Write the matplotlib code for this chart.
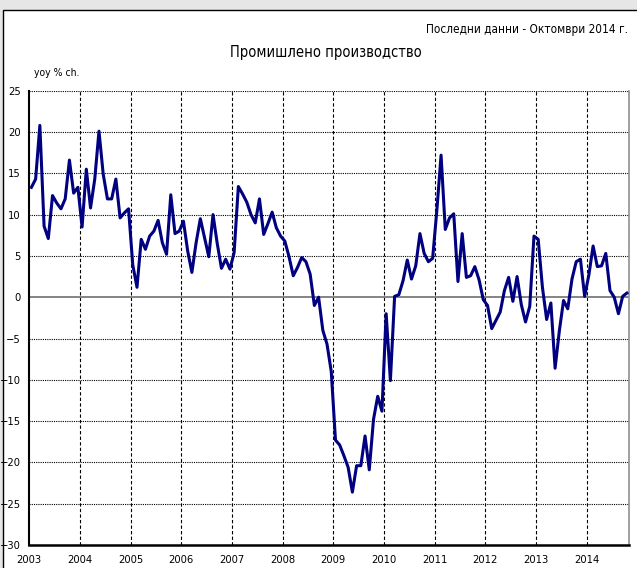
import matplotlib
matplotlib.use("Agg")
import matplotlib.pyplot as plt
from matplotlib.patches import Rectangle
import numpy as np

# monthly yoy % change, Jan 2003 - Oct 2014
y2003 = [13.3, 14.3, 20.8, 8.6, 7.1, 12.3, 11.4, 10.7, 11.9, 16.6, 12.6, 13.3]
y2004 = [8.5, 15.5, 10.8, 14.3, 20.1, 14.9, 11.9, 11.9, 14.3, 9.6, 10.2, 10.7]
y2005 = [3.9, 1.2, 7.0, 5.8, 7.4, 8.0, 9.3, 6.6, 5.2, 12.4, 7.7, 8.0]
y2006 = [9.2, 5.6, 3.0, 6.6, 9.5, 7.2, 4.9, 10.0, 6.5, 3.5, 4.6, 3.4]
y2007 = [5.4, 13.4, 12.5, 11.5, 10.0, 9.0, 11.9, 7.6, 8.9, 10.3, 8.4, 7.4]
y2008 = [6.8, 4.9, 2.6, 3.6, 4.8, 4.3, 2.8, -1.0, 0.0, -4.0, -5.7, -9.0]
y2009 = [-17.3, -17.9, -19.2, -20.6, -23.6, -20.4, -20.4, -16.8, -20.9, -14.8, -12.0, -13.8]
y2010 = [-2.0, -10.1, 0.1, 0.3, 2.0, 4.5, 2.2, 3.8, 7.7, 5.3, 4.3, 4.7]
y2011 = [10.5, 17.2, 8.2, 9.6, 10.1, 1.9, 7.7, 2.4, 2.6, 3.7, 2.1, -0.3]
y2012 = [-1.0, -3.8, -2.8, -1.8, 0.8, 2.4, -0.5, 2.5, -0.9, -3.0, -1.1, 7.4]
y2013 = [7.0, 1.2, -2.7, -0.7, -8.6, -4.1, -0.4, -1.4, 2.2, 4.3, 4.6, 0.1]
y2014 = [2.7, 6.2, 3.7, 3.8, 5.3, 0.8, 0.0, -2.0, 0.1, 0.5]

years = list(range(2003, 2015))
yticks = list(range(-30, 30, 5))

title = "Промишлено производство"
note = "Последни данни - Октомври 2014 г."
unit = "yoy % ch."

plt.rcParams['font.family'] = ['DejaVu Sans']
plt.rcParams['font.stretch'] = 'condensed'

values = np.array(y2003 + y2004 + y2005 + y2006 + y2007 + y2008
                  + y2009 + y2010 + y2011 + y2012 + y2013 + y2014)
n = len(values)
# points sit in the middle of each month
x = 2003 + (np.arange(n) + 0.5) / 12

fig = plt.figure(figsize=(6.37, 5.68), dpi=100)
fig.patch.set_facecolor("#e6e6e6")
# white chart frame
fig.patches.append(Rectangle((3 / 637, -0.1), 1.1, 1.1 - 10 / 568,
                             transform=fig.transFigure, facecolor="white",
                             edgecolor="black", linewidth=1, zorder=-1))

ax = fig.add_axes([29.3 / 637, 1 - 545 / 568, (629 - 29.3) / 637, (545 - 90.7) / 568])
ax.set_facecolor("white")

ax.plot(x, values, color="#000080", linewidth=2.2, zorder=3)
ax.axhline(0, color="#707070", linewidth=1.2, zorder=2)

ax.set_xlim(2003, 2003 + n / 12)
ax.set_ylim(-30, 25)
ax.set_xticks(years)
ax.set_xticklabels([str(y) for y in years])
ax.set_yticks(yticks)

for y in yticks:
    if y != 0 and y != -30:
        ax.axhline(y, color="black", linewidth=0.8, linestyle=(0, (1, 1)), zorder=1)
for yr in years[1:]:
    ax.axvline(yr, color="black", linewidth=0.8, linestyle=(0, (3, 2)), zorder=1)

ax.tick_params(axis="both", length=0, labelsize=8)
ax.tick_params(axis="y", pad=6)
ax.tick_params(axis="x", pad=7)

ax.spines["top"].set_visible(False)
ax.spines["right"].set_color("#909090")
ax.spines["right"].set_linewidth(1.2)
ax.spines["left"].set_linewidth(1.5)
ax.spines["bottom"].set_linewidth(1.8)

fig.text(326 / 637, 1 - 52 / 568, title, ha="center", va="center", fontsize=10.5)
fig.text(628 / 637, 1 - 30 / 568, note, ha="right", va="center", fontsize=8.5)
fig.text(34 / 637, 1 - 73 / 568, unit, ha="left", va="center", fontsize=7.5)

fig.savefig("out.png", dpi=100)
